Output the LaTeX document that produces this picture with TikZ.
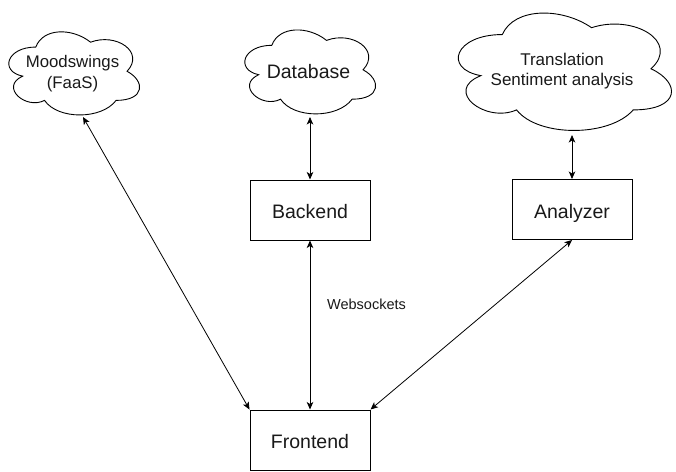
\documentclass[tikz,border=0pt]{standalone}
\usepackage{fontspec}
\setmainfont{Liberation Sans}
\usetikzlibrary{arrows.meta}
\tikzset{
  box/.style={draw, line width=1pt, minimum width=120pt, minimum height=60pt, inner sep=0pt,
    text height=17.5pt, text depth=0pt,
    font=\fontsize{19.5}{23}\selectfont, text=black!90},
  cloudbox/.style={inner sep=0pt, align=center, text=black!90},
  link/.style={line width=0.8pt,
    {Stealth[length=7.5pt,width=6.5pt,inset=2pt]}-{Stealth[length=7.5pt,width=6.5pt,inset=2pt]}},
  cloudline/.style={line width=0.9pt},
}
% #1 node name, #2 width, #3 height; the cloud is drawn 2pt above the node box
\newcommand\drawmycloud[3]{%
  \draw[cloudline, shift={(#1.north west)}, yshift=2pt, x=#2pt, y=-#3pt]
    (0.25,0.25) .. controls (0.05,0.25) and (0,0.5) .. (0.16,0.55)
    .. controls (0,0.66) and (0.18,0.9) .. (0.31,0.8)
    .. controls (0.4,1) and (0.7,1) .. (0.8,0.8)
    .. controls (1,0.8) and (1,0.6) .. (0.875,0.5)
    .. controls (1,0.3) and (0.8,0.1) .. (0.625,0.2)
    .. controls (0.5,0.05) and (0.3,0.05) .. (0.25,0.25) -- cycle;}
\begin{document}
\begin{tikzpicture}[x=1pt, y=-1pt]
\useasboundingbox (0,0) rectangle (676,471);

% clouds
\node[cloudbox, minimum width=146pt, minimum height=97pt, font=\fontsize{16.8}{21}\selectfont]
  (ms) at (72.5,73.5) {Moodswings\\(FaaS)};
\drawmycloud{ms}{146}{97}
\node[cloudbox, minimum width=146pt, minimum height=98pt, font=\fontsize{19.5}{23}\selectfont]
  (db) at (308.5,72) {Database};
\drawmycloud{db}{146}{98}
\node[cloudbox, minimum width=238pt, minimum height=137pt, font=\fontsize{17}{19.5}\selectfont]
  (tr) at (562,71) {Translation\\Sentiment analysis};
\drawmycloud{tr}{238}{137}

% boxes
\node[box] (be) at (310,210) {Backend};
\node[box] (an) at (572,209.5) {Analyzer};
\node[box] (fe) at (310,440) {Frontend};

% attachment points on clouds
\coordinate (msa) at (83,117);
\coordinate (dba) at (310,117);
\coordinate (tra) at (572,135);

% connectors
\draw[link] (msa) -- (fe.north west);
\draw[link] (dba) -- (be.north);
\draw[link] (be.south) -- (fe.north);
\draw[link] (tra) -- (an.north);
\draw[link] (an.south) -- (fe.north east);

\node[font=\fontsize{14.5}{17}\selectfont, text=black!90, inner sep=0pt] (ws) at (366.5,304) {Websockets};
\end{tikzpicture}
\end{document}
